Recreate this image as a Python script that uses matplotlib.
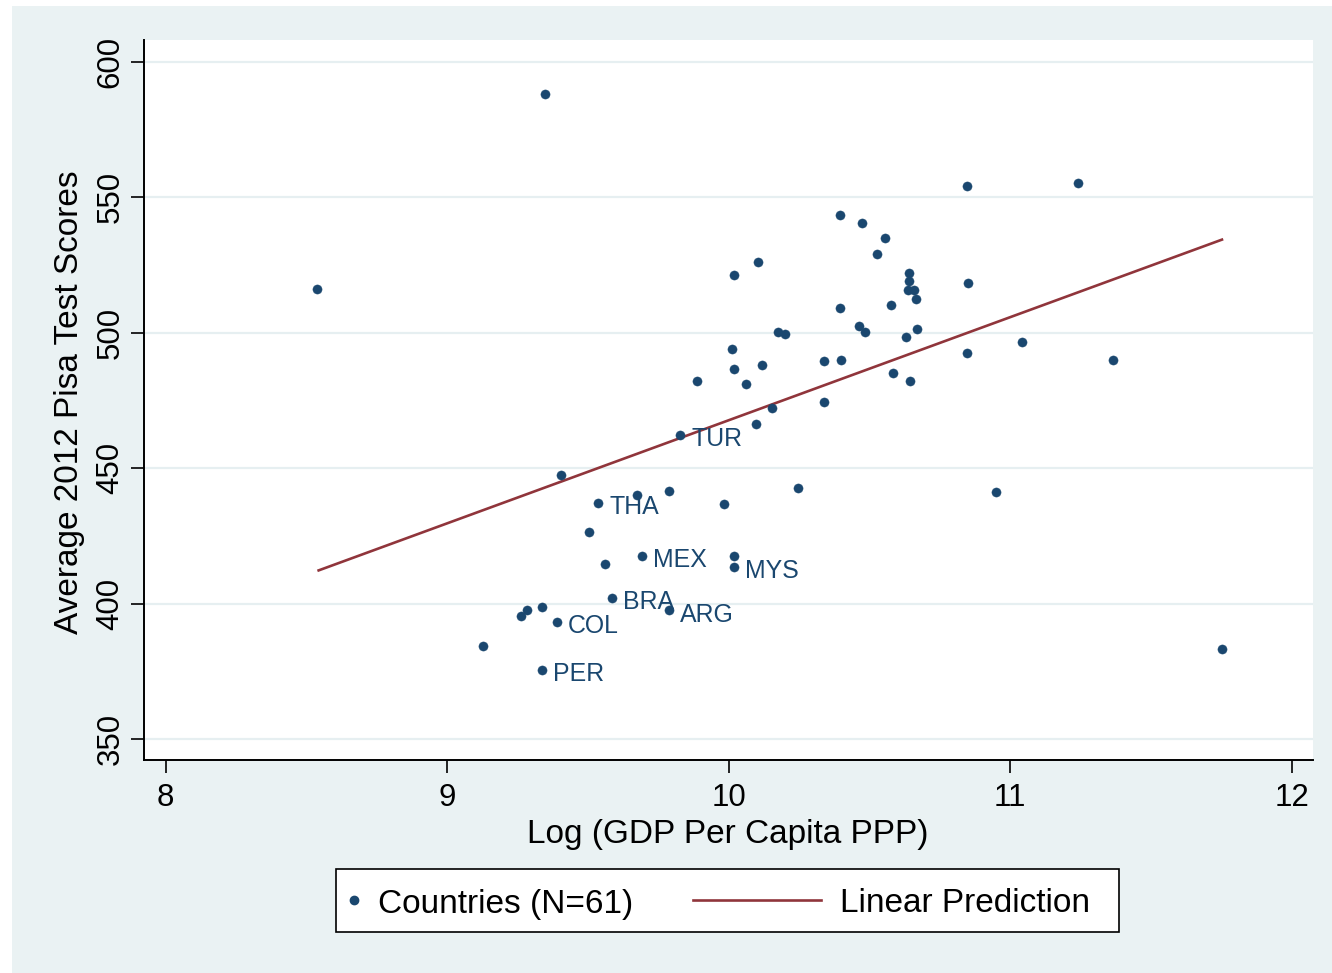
import matplotlib
matplotlib.use("Agg")
import matplotlib.pyplot as plt
from matplotlib.patches import Rectangle
from matplotlib.lines import Line2D

# ---------------- data ----------------
log_gdp = [8.539, 9.347, 9.126, 9.338, 9.261, 9.282, 9.338, 9.390, 9.403, 9.504,
           9.537, 9.561, 9.584, 9.673, 9.692, 9.789, 9.789, 9.828, 9.886, 9.983,
           10.018, 10.018, 10.018, 10.012, 10.018, 10.063, 10.103, 10.097, 10.119, 10.154,
           10.176, 10.201, 10.246, 10.337, 10.337, 10.394, 10.394, 10.400, 10.475, 10.463,
           10.485, 10.526, 10.554, 10.577, 10.583, 10.641, 10.641, 10.638, 10.657, 10.664,
           10.629, 10.669, 10.645, 10.846, 10.851, 10.846, 10.949, 11.041, 11.240, 11.365,
           11.753]
pisa = [516.1, 588.1, 384.3, 375.5, 395.6, 397.6, 398.6, 393.3, 447.3, 426.4,
        437.2, 414.6, 402.1, 440.1, 417.6, 441.4, 397.5, 462.2, 482.2, 436.6,
        417.6, 413.5, 521.4, 494.1, 486.5, 481.0, 526.2, 466.3, 488.2, 472.2,
        500.1, 499.5, 442.5, 489.4, 474.5, 543.4, 509.0, 490.0, 540.5, 502.4,
        500.1, 529.1, 535.0, 510.2, 485.2, 522.0, 519.0, 515.6, 515.6, 512.5,
        498.3, 501.2, 482.2, 554.1, 518.4, 492.4, 441.3, 496.5, 555.3, 490.0,
        383.1]
country = ["", "", "", "PER", "", "", "", "COL", "", "",
           "THA", "", "BRA", "", "MEX", "", "ARG", "TUR", "", "",
           "", "MYS", "", "", "", "", "", "", "", "",
           "", "", "", "", "", "", "", "", "", "",
           "", "", "", "", "", "", "", "", "", "",
           "", "", "", "", "", "", "", "", "", "",
           ""]

pred_x = [8.539, 11.757]
pred_y = [412.1, 534.5]

x_ticks = [8, 9, 10, 11, 12]
y_ticks = [350, 400, 450, 500, 550, 600]

x_title = "Log (GDP Per Capita PPP)"
y_title = "Average 2012 Pisa Test Scores"
legend_labels = ["Countries (N=61)", "Linear Prediction"]

# ---------------- style ----------------
NAVY = "#1A476F"
MAROON = "#90353B"
BG = "#EAF2F3"
W, H = 1332, 973

plt.rcParams["font.family"] = ["Liberation Sans", "DejaVu Sans"]

fig = plt.figure(figsize=(W / 100, H / 100), dpi=100, facecolor="white")

def fx(px):
    return px / W

def fy(py):
    return 1 - py / H

# outer light background
fig.patches.append(Rectangle((fx(12), 0), 1 - fx(12), fy(6), transform=fig.transFigure,
                             facecolor=BG, edgecolor="none", zorder=-10))

ax = fig.add_axes([fx(144), fy(760), fx(1313) - fx(144), fy(40) - fy(760)])
ax.set_facecolor("white")

ax.set_xlim(7.923, 12.076)
ax.set_ylim(342.3, 608.0)

ax.set_axisbelow(True)
ax.yaxis.grid(True, color="#E6EFF1", linewidth=1.6)
ax.xaxis.grid(False)

for s in ["top", "right"]:
    ax.spines[s].set_visible(False)
for s in ["left", "bottom"]:
    ax.spines[s].set_linewidth(1.4)
    ax.spines[s].set_color("black")

ax.set_xticks(x_ticks)
ax.set_yticks(y_ticks)
ax.tick_params(axis="both", direction="out", length=9.4, width=1.2, colors="black",
               labelsize=22.5)
ax.tick_params(axis="x", pad=7.2)
ax.tick_params(axis="y", pad=3.8)
plt.setp(ax.get_yticklabels(), rotation=90, va="center")

# scatter points
ax.plot(log_gdp, pisa, linestyle="none", marker="o", markersize=6.6,
        markerfacecolor=NAVY, markeredgecolor=NAVY, markeredgewidth=0.3, zorder=3)

# country labels
for xv, yv, name in zip(log_gdp, pisa, country):
    if name:
        ax.annotate(name, (xv, yv), xytext=(11, -11.3), textcoords="offset pixels",
                    ha="left", va="baseline", fontsize=17.9, color=NAVY, zorder=4)

# linear prediction
ax.plot(pred_x, pred_y, color=MAROON, linewidth=1.9, solid_capstyle="butt", zorder=2)

# axis titles
ax.set_xlabel(x_title, fontsize=24)
ax.xaxis.set_label_coords(0.499, -0.082)
ax.set_ylabel(y_title, fontsize=24)
ax.yaxis.set_label_coords(-0.0505, 0.497)

# legend box (Stata style, drawn in figure pixels)
fig.patches.append(Rectangle((fx(336), fy(932)), fx(1119) - fx(336), fy(869) - fy(932),
                             transform=fig.transFigure, facecolor="white",
                             edgecolor="black", linewidth=1.2, zorder=5))
fig.lines.append(Line2D([fx(354)], [fy(900)], transform=fig.transFigure, linestyle="none",
                        marker="o", markersize=6.0, markerfacecolor=NAVY,
                        markeredgecolor=NAVY, zorder=6))
fig.lines.append(Line2D([fx(693), fx(821)], [fy(900), fy(900)], transform=fig.transFigure,
                        color=MAROON, linewidth=1.9, zorder=6))
fig.text(fx(378), fy(912.5), legend_labels[0], fontsize=24, ha="left", va="baseline",
         color="black", zorder=7)
fig.text(fx(840), fy(912.5), legend_labels[1], fontsize=24, ha="left", va="baseline",
         color="black", zorder=7)

fig.savefig("out.png", dpi=100, facecolor=fig.get_facecolor())
